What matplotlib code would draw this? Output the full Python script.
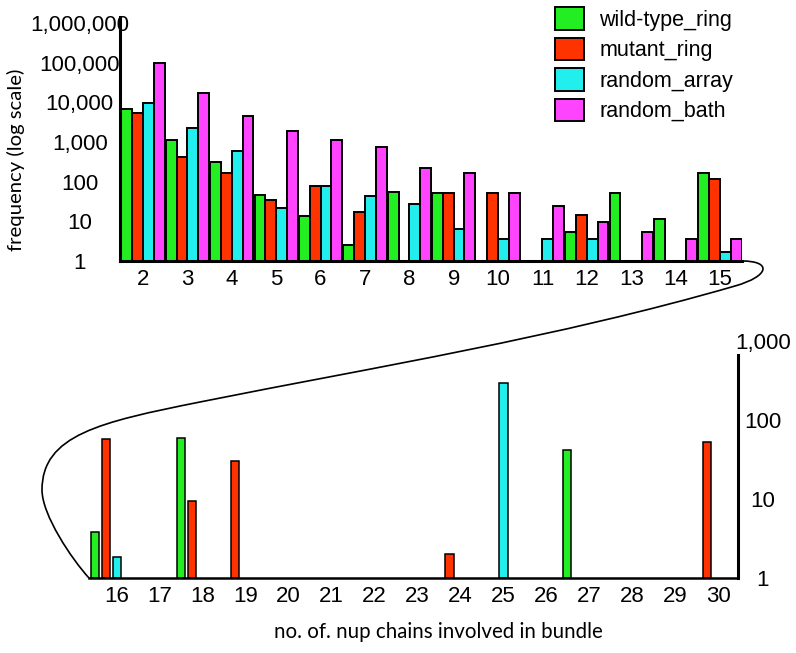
import numpy as np
import matplotlib
matplotlib.use("Agg")
import matplotlib.pyplot as plt
from matplotlib.path import Path
from matplotlib.patches import PathPatch, Patch
from matplotlib.ticker import NullLocator

plt.rcParams['font.family'] = ['Liberation Sans', 'DejaVu Sans']

nan = np.nan

# ---- data ----
series = ["wild-type_ring", "mutant_ring", "random_array", "random_bath"]
colors = ["#22ee22", "#ff3300", "#22eeee", "#ff44ff"]

top_n = np.arange(2, 16)
wild_top = [6900, 1140, 320, 46, 14, 2.6, 55, 52, nan, nan, 5.4, 53, 11.5, 167]
mutant_top = [5400, 420, 167, 35, 78, 17, nan, 52, 52, nan, 14.5, nan, nan, 118]
array_top = [9800, 2300, 600, 22, 78, 44, 27, 6.4, 3.6, 3.6, 3.6, nan, nan, 1.7]
bath_top = [100000, 17500, 4600, 1900, 1140, 760, 224, 167, 52, 24, 9.7, 5.4, 3.6, 3.6]

bot_n = np.arange(16, 31)
wild_bot = [3.8, nan, 60, nan, nan, nan, nan, nan, nan, nan, nan, 42, nan, nan, nan]
mutant_bot = [57, nan, 9.4, 30, nan, nan, nan, nan, 2, nan, nan, nan, nan, nan, 53]
array_bot = [1.85, nan, nan, nan, nan, nan, nan, nan, nan, 295, nan, nan, nan, nan, nan]
bath_bot = [nan] * 15

top_ticks = [1, 10, 100, 1000, 10000, 100000, 1000000]
top_ticklabels = ["1", "10", "100", "1,000", "10,000", "100,000", "1,000,000"]
bot_ticks = [1, 10, 100, 1000]
bot_ticklabels = ["1", "10", "100", "1,000"]

W, H = 796, 653
fig = plt.figure(figsize=(W / 100, H / 100), dpi=100)


def px_axes(l, t, r, b):
    return fig.add_axes([l / W, 1 - b / H, (r - l) / W, (b - t) / H])


def draw_bars(ax, xs, data, width, step, shift, lw):
    for i, vals in enumerate(data):
        vals = np.asarray(vals, dtype=float)
        m = ~np.isnan(vals)
        ax.bar(xs[m] + (i - shift) * step, vals[m] - 1, width, bottom=1,
               color=colors[i], edgecolor="black", linewidth=lw, zorder=2)


# ---- top panel ----
ax1 = px_axes(120, 17, 742, 261)
ax1.set_yscale("log")
draw_bars(ax1, top_n, [wild_top, mutant_top, array_top, bath_top],
          0.243, 0.243, 1.5, 1.4)
ax1.set_xlim(1.482, 15.495)
ax1.set_ylim(1, 10 ** 6.151)
ax1.set_yticks(top_ticks)
ax1.set_yticklabels(top_ticklabels)
ax1.yaxis.set_minor_locator(NullLocator())
ax1.set_xticks(top_n)
ax1.set_xticklabels([str(n) for n in top_n])
ax1.tick_params(axis="both", length=0, labelsize=16)
ax1.tick_params(axis="y", pad=29)
ax1.tick_params(axis="x", pad=6)
plt.setp(ax1.get_yticklabels(), ha="center")
for s in ["top", "right"]:
    ax1.spines[s].set_visible(False)
for s in ["left", "bottom"]:
    ax1.spines[s].set_linewidth(2.2)
ax1.set_ylabel("frequency (log scale)", family="Lato", fontsize=14.6)
ax1.yaxis.set_label_coords(-0.153, 0.414)

# ---- bottom panel ----
ax2 = px_axes(89, 341, 738, 578)
ax2.set_yscale("log")
draw_bars(ax2, bot_n, [wild_bot, mutant_bot, array_bot, bath_bot],
          0.195, 0.256, 2, 1.1)
ax2.set_xlim(15.347, 30.466)
ax2.set_ylim(1, 1000)
ax2.yaxis.tick_right()
ax2.set_yticks(bot_ticks)
ax2.set_yticklabels(bot_ticklabels)
ax2.yaxis.set_minor_locator(NullLocator())
ax2.set_xticks(bot_n)
ax2.set_xticklabels([str(n) for n in bot_n])
ax2.tick_params(axis="both", length=0, labelsize=16)
ax2.tick_params(axis="y", pad=18)
ax2.tick_params(axis="x", pad=6)
plt.setp(ax2.get_yticklabels(), ha="center")
for s in ["top", "left"]:
    ax2.spines[s].set_visible(False)
ax2.spines["bottom"].set_linewidth(1.8)
ax2.spines["right"].set_linewidth(2.2)
ax2.spines["right"].set_bounds(1, 665)
ax2.set_xlabel("no. of. nup chains involved in bundle", family="Lato", fontsize=14.8)
ax2.xaxis.set_label_coords(0.538, -0.185)

# ---- connector curve from top axis end to bottom axis start ----
pts = [(742, 261),
       (772, 261), (770, 276), (735, 286),
       (555, 338), (380, 366), (200, 402),
       (100, 422), (42, 435), (42, 490),
       (42, 515), (72, 559.5), (89, 578)]
codes = [Path.MOVETO] + [Path.CURVE4] * 12
verts = [(x / W, 1 - y / H) for x, y in pts]
fig.patches.append(PathPatch(Path(verts, codes), facecolor="none",
                             edgecolor="black", lw=1.2,
                             transform=fig.transFigure, figure=fig))

# ---- legend ----
handles = [Patch(facecolor=c, edgecolor="black", linewidth=1.4) for c in colors]
fig.legend(handles, series, loc="upper left",
           bbox_to_anchor=(555 / W, 1 - 7 / H), frameon=False,
           borderpad=0, borderaxespad=0, handlelength=1.34,
           handleheight=1.25, handletextpad=0.72, labelspacing=0.32,
           fontsize=15.5)

fig.savefig("out.png", dpi=100)
